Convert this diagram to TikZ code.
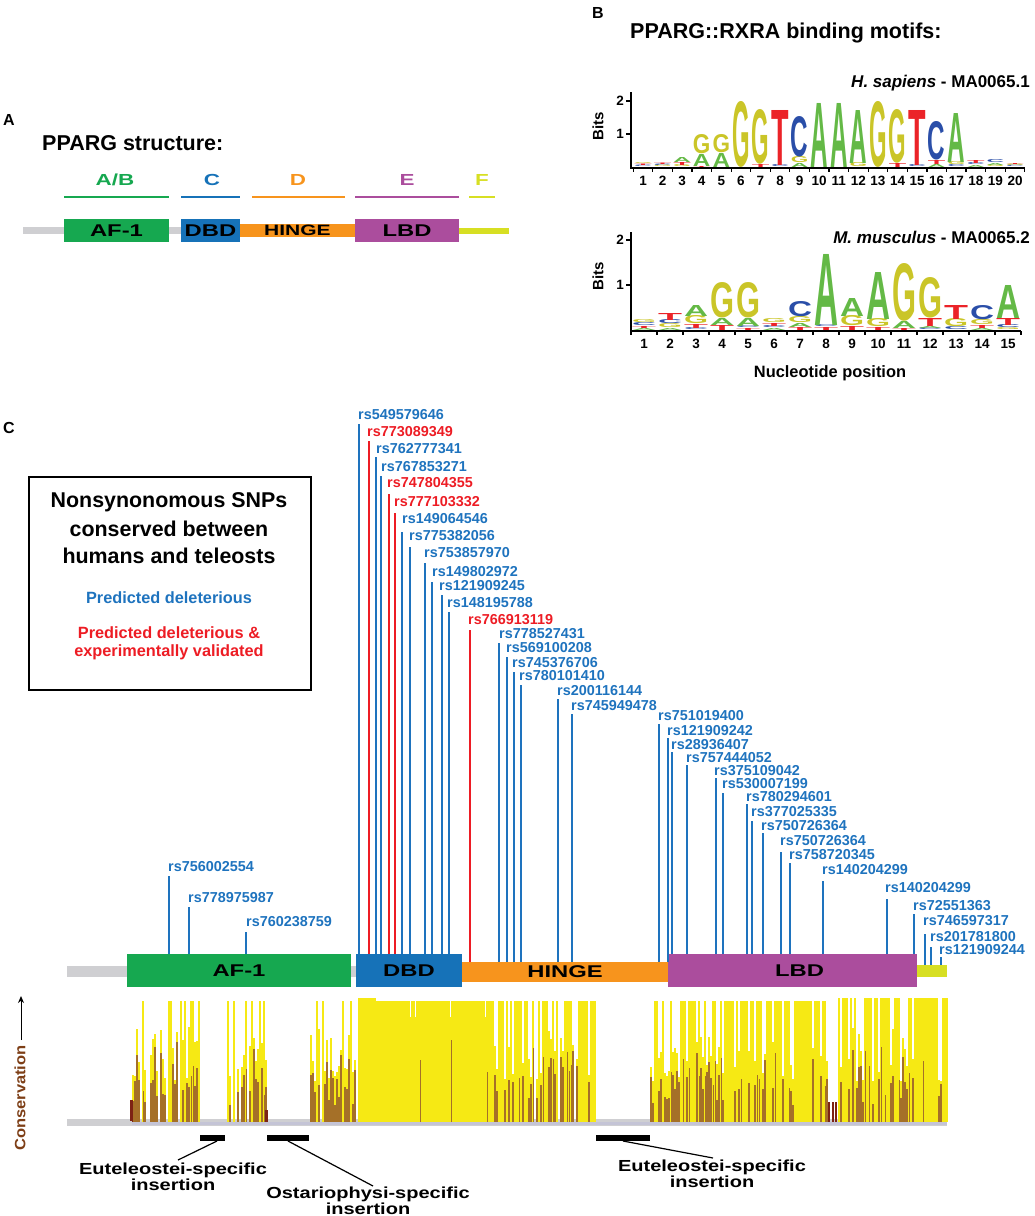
\documentclass[tikz,border=0pt]{standalone}
\usepackage{graphicx}
\usepackage{fontspec}
\usetikzlibrary{arrows.meta}
\setmainfont{Liberation Sans}
\newfontfamily\widefont{Liberation Sans}[FakeStretch=1.4]
\newfontfamily\insfont{Liberation Sans}[FakeStretch=1.25]
\newfontfamily\consfont{Liberation Sans}[FakeStretch=1.1]
\newfontfamily\logofont{Liberation Sans}
\newcommand\fsz[1]{\fontsize{#1}{#1}\selectfont}
\newcommand\snpfont{\bfseries\fontsize{14.4}{16}\selectfont}
\definecolor{snpblue}{RGB}{30,115,190}
\definecolor{snpred}{RGB}{237,28,36}
\definecolor{afgreen}{RGB}{22,168,80}
\definecolor{dbdblue}{RGB}{22,114,184}
\definecolor{hingeor}{RGB}{247,148,29}
\definecolor{lbdpur}{RGB}{171,77,157}
\definecolor{fyel}{RGB}{215,223,35}
\definecolor{lgray}{RGB}{207,207,210}
\definecolor{consY}{RGB}{246,233,20}
\definecolor{consB}{RGB}{165,112,40}
\definecolor{consD}{RGB}{125,35,20}
\definecolor{brownlbl}{RGB}{125,62,22}
\definecolor{lgA}{RGB}{100,185,70}
\definecolor{lgC}{RGB}{42,78,168}
\definecolor{lgG}{RGB}{202,197,40}
\definecolor{lgT}{RGB}{235,35,40}
\definecolor{lav}{RGB}{196,196,214}
% logo column: #1 centre x, #2 list Letter/height (bottom to top)
\newcommand\lgcol[2]{%
  \xdef\ycur{\lgbase}%
  \foreach \LL/\HH in {#2}{%
    \node[inner sep=0pt,outer sep=0pt,anchor=south,text=lg\LL] at (#1,\ycur)
      {\resizebox{\lgw pt}{\HH pt}{\logofont\bfseries\LL}};
    \pgfmathsetmacro\ynew{\ycur-\HH}%
    \xdef\ycur{\ynew}%
  }}
% conservation region: #1 start, #2 end, #3 p full, #4 p cumulative (full+empty), #5 full height
\newcommand\consreg[5]{%
  \pgfmathtruncatemacro\nn{(#2-#1)/2}%
  \foreach \i in {0,...,\nn}{%
    \pgfmathsetmacro\xx{#1+2*\i}%
    \pgfmathsetmacro\ra{rnd}%
    \pgfmathsetmacro\rb{rnd}%
    \pgfmathsetmacro\rc{rnd}%
    \ifdim\ra pt<#3pt
      \fill[consY] (\xx,1122) rectangle ++(2.1,-#5);
      \ifdim\rc pt<0.25pt
        \pgfmathsetmacro\hb{25+50*\rb}%
        \fill[consB] (\xx+0.6,1122) rectangle ++(0.9,-\hb);
      \fi
    \else
      \ifdim\ra pt<#4pt\relax\else
        \pgfmathsetmacro\hy{40+55*\rb}%
        \pgfmathsetmacro\hb{\hy*(0.35+0.6*\rc)}%
        \fill[consY] (\xx,1122) rectangle ++(2.1,-\hy);
        \fill[consB] (\xx+0.3,1122) rectangle ++(1.5,-\hb);
      \fi
    \fi
  }}
\begin{document}
\begin{tikzpicture}[x=1pt,y=-1pt,
  snpl/.style={font=\snpfont, inner sep=0pt, anchor=west},
  snpline/.style={line width=1.8pt},
  dom/.style={inner sep=0pt, outer sep=0pt, anchor=north west, font=\widefont\bfseries\fsz{17}},
  seglbl/.style={font=\widefont\bfseries\fsz{16}, inner sep=0pt},
  seg/.style={line width=1.5pt},
  plab/.style={font=\bfseries\fsz{16}, inner sep=0pt},
  ttl/.style={font=\bfseries\fsz{21.5}, inner sep=0pt},
  num/.style={font=\bfseries\fsz{13.5}, inner sep=0pt},
  axis/.style={line width=1.4pt, black},
  ins/.style={font=\insfont\bfseries\fontsize{16}{16.5}\selectfont, align=center, inner sep=0pt},
  leg/.style={font=\bfseries\fsz{21.4}, inner sep=0pt},
  legs/.style={font=\bfseries\fsz{16.3}, inner sep=0pt}]
\useasboundingbox (0,0) rectangle (1034,1216);
\pgfmathsetseed{7}

% ================= Panel A =================
\node[plab] (labA) at (9,120) {A};
\node[ttl, anchor=west] (ttlA) at (42,143) {PPARG structure:};
\node[seglbl, text=afgreen] (sAB) at (115,180) {A/B};
\node[seglbl, text=dbdblue] (sC) at (212,180) {C};
\node[seglbl, text=hingeor] (sD) at (298,180) {D};
\node[seglbl, text=lbdpur] (sE) at (407,180) {E};
\node[seglbl, text=fyel] (sF) at (482,180) {F};
\draw[seg, afgreen] (64,197) -- (169,197);
\draw[seg, dbdblue] (181,197) -- (240,197);
\draw[seg, hingeor] (252,197) -- (345,197);
\draw[seg, lbdpur] (355,197) -- (459,197);
\draw[seg, fyel] (469,197) -- (495,197);
\fill[lgray] (23,227) rectangle (64,234);
\fill[lgray] (169,227) rectangle (181,234);
\node[dom, fill=afgreen, minimum width=105pt, minimum height=23pt] (af1A) at (64,219) {AF-1};
\node[dom, fill=dbdblue, minimum width=59pt, minimum height=23pt] (dbdA) at (181,219) {DBD};
\node[dom, fill=hingeor, minimum width=115pt, minimum height=13pt, font=\widefont\bfseries\fsz{15}] (hingeA) at (240,224) {HINGE};
\node[dom, fill=lbdpur, minimum width=104pt, minimum height=23pt] (lbdA) at (355,219) {LBD};
\node[dom, fill=fyel, minimum width=50pt, minimum height=6pt] (fA) at (459,228) {};

% ================= Panel B =================
\node[plab] (labB) at (598,13) {B};
\node[ttl, anchor=west] (ttlB) at (630,33) {PPARG::RXRA binding motifs:};
\node[font=\bfseries\fsz{17}, inner sep=0pt, anchor=east] (hs) at (1030,83) {\textit{H. sapiens} - MA0065.1};
\node[font=\bfseries\fsz{17}, inner sep=0pt, anchor=east] (mm) at (1030,237) {\textit{M. musculus} - MA0065.2};
% logo 1 axes
\draw[axis] (631,92) -- (631,168) -- (1025,168);
\draw[axis] (626,101) -- (631,101);
\draw[axis] (626,134) -- (631,134);
\node[num, anchor=east] (y2a) at (624,101) {2};
\node[num, anchor=east] (y1a) at (624,134) {1};
\node[font=\bfseries\fsz{15}, rotate=90, inner sep=0pt] (bitsA) at (598,126) {Bits};
\foreach \k in {0,...,20}{\draw[line width=1.2pt] (633.2+19.58*\k,168) -- ++(0,4);}
\foreach \k in {1,...,20}{\node[num] at (643+19.58*\k-19.58,181) {\k};}
% logo 1 letters
\def\lgbase{167}\def\lgw{17.5}
\lgcol{643}{C/1.5,T/1.5,G/1}
\lgcol{662.6}{G/1.5,C/1.5,T/1.5}
\lgcol{682.2}{G/2,T/3,A/5}
\lgcol{701.7}{T/1,A/12,G/19}
\lgcol{721.3}{A/14,G/18}
\lgcol{740.9}{G/65}
\lgcol{760.5}{T/3,G/54}
\lgcol{780.1}{C/2,T/55}
\lgcol{799.6}{A/4,G/6,C/40}
\lgcol{819.2}{A/64}
\lgcol{838.8}{A/64}
\lgcol{858.4}{G/4,A/53}
\lgcol{878}{G/65}
\lgcol{897.5}{T/4,G/53}
\lgcol{917.1}{C/2,T/55}
\lgcol{936.7}{A/3,T/4,C/38}
\lgcol{956.3}{C/2,G/3,A/49}
\lgcol{975.9}{A/2,C/2,T/3}
\lgcol{995.4}{G/2,A/2,C/3}
\lgcol{1015}{C/1.5,G/1.5,T/1}
% logo 2 axes
\draw[axis] (631,232) -- (631,331) -- (1021,331);
\draw[axis] (626,240) -- (631,240);
\draw[axis] (626,285) -- (631,285);
\node[num, anchor=east] (y2b) at (624,240) {2};
\node[num, anchor=east] (y1b) at (624,285) {1};
\node[font=\bfseries\fsz{15}, rotate=90, inner sep=0pt] (bitsB) at (598,276) {Bits};
\foreach \k in {0,...,15}{\draw[line width=1.2pt] (631+26*\k,331) -- ++(0,4);}
\foreach \k in {1,...,15}{\node[num] at (644+26*\k-26,344) {\k};}
\node[font=\bfseries\fsz{16.4}, inner sep=0pt] (nucpos) at (830,373) {Nucleotide position};
% logo 2 letters
\def\lgbase{330}\def\lgw{24}
\lgcol{644}{A/2,T/2,C/3,G/3}
\lgcol{670}{A/2,G/4,C/4,T/7}
\lgcol{696}{C/2,T/4,G/8,A/11}
\lgcol{722}{T/5,A/7,G/35}
\lgcol{748}{T/2,C/2,A/8,G/35}
\lgcol{774}{A/2,C/2,T/3,G/4}
\lgcol{800}{T/3,A/4,G/6,C/15}
\lgcol{826}{T/3,C/2,A/71}
\lgcol{852}{T/4,G/10,A/18}
\lgcol{878}{T/3,G/8,A/47}
\lgcol{904}{T/2,A/7,G/57}
\lgcol{930}{C/2,A/2,T/8,G/40}
\lgcol{956}{C/3,G/8,T/14}
\lgcol{982}{A/2,T/3,G/5,C/14}
\lgcol{1008}{G/2,C/3,T/7,A/33}

% ================= Panel C =================
\node[plab] (labC) at (9,428) {C};
\node[draw=black, line width=1.5pt, minimum width=282pt, minimum height=213pt, anchor=north west, inner sep=0pt] (legend) at (28,476) {};
\node[leg] (lg1) at (169,502) {Nonsynonomous SNPs};
\node[leg] (lg2) at (169,529) {conserved between};
\node[leg] (lg3) at (169,556) {humans and teleosts};
\node[legs, text=snpblue] (lg4) at (169,598) {Predicted deleterious};
\node[legs, text=snpred] (lg5) at (169,633) {Predicted deleterious \&};
\node[legs, text=snpred] (lg6) at (169,652) {experimentally validated};

% protein bar
\fill[lgray] (67,966) rectangle (127,977);
\fill[lgray] (351,966) rectangle (356,977);
\node[dom, fill=afgreen, minimum width=224pt, minimum height=33pt] (af1) at (127,954) {AF-1};
\node[dom, fill=dbdblue, minimum width=106pt, minimum height=33pt] (dbd) at (356,954) {DBD};
\node[dom, fill=hingeor, minimum width=206pt, minimum height=20pt, text width=200pt, align=center] (hinge) at (462,962) {HINGE};
\node[dom, fill=lbdpur, minimum width=249pt, minimum height=33pt, text width=249pt, align=center] (lbd) at (668,954) {\hspace*{14pt}LBD};
\node[dom, fill=fyel, minimum width=30pt, minimum height=12pt] (fdom) at (917,965) {};

% SNPs
\foreach \snx/\sny/\slx/\slt/\stg/\scl/\stx in {
 358/415/359/424/dbd/snpblue/rs549579646,
 367/432/369/441/dbd/snpred/rs773089349,
 376/449/376/457/dbd/snpblue/rs762777341,
 381/467/381/476/dbd/snpblue/rs767853271,
 387/483/389/494/dbd/snpred/rs747804355,
 394/502/395/513/dbd/snpred/rs777103332,
 402/519/402/532/dbd/snpblue/rs149064546,
 409/536/410/547/dbd/snpblue/rs775382056,
 424/553/425/563/dbd/snpblue/rs753857970,
 432/572/432/582/dbd/snpblue/rs149802972,
 439/586/442/595/dbd/snpblue/rs121909245,
 447/603/449/612/dbd/snpblue/rs148195788,
 468/620/470/630/hinge/snpred/rs766913119,
 499/634/499/643/hinge/snpblue/rs778527431,
 506/648/507/657/hinge/snpblue/rs569100208,
 512/663/514/672/hinge/snpblue/rs745376706,
 519/676/521/685/hinge/snpblue/rs780101410,
 557/691/558/699/hinge/snpblue/rs200116144,
 571/706/572/714/hinge/snpblue/rs745949478,
 658/716/659/724/hinge/snpblue/rs751019400,
 667/731/668/738/hinge/snpblue/rs121909242,
 671/745/672/752/lbd/snpblue/rs28936407,
 686/758/687/765/lbd/snpblue/rs757444052,
 714/771/716/778/lbd/snpblue/rs375109042,
 722/784/723/793/lbd/snpblue/rs530007199,
 746/797/747/804/lbd/snpblue/rs780294601,
 751/812/752/821/lbd/snpblue/rs377025335,
 761/826/763/833/lbd/snpblue/rs750726364,
 780/841/781/852/lbd/snpblue/rs750726364,
 789/855/790/863/lbd/snpblue/rs758720345,
 822/870/823/881/lbd/snpblue/rs140204299,
 885/888/887/899/lbd/snpblue/rs140204299,
 913/906/914/914/lbd/snpblue/rs72551363,
 923/921/925/934/fdom/snpblue/rs746597317,
 930/937/931/947/fdom/snpblue/rs201781800,
 939/950/941/957/fdom/snpblue/rs121909244,
 168/867/169/876/af1/snpblue/rs756002554,
 188/898/189/907/af1/snpblue/rs778975987,
 246/922/246/932/af1/snpblue/rs760238759}{
  \node[snpl, text=\scl] (snp-\stx-\sny) at (\snx,\sny) {\stx};
  \draw[snpline, \scl] (\slx,\slt) -- (\slx,\slt |- \stg.north);
}

% conservation track
\fill[lgray] (67,1119) rectangle (947,1126);
\consreg{132}{198}{0.18}{0.45}{121}
\consreg{227}{266}{0.08}{0.22}{121}
\consreg{310}{356}{0.2}{0.3}{121}
\fill[consY] (358,1001) rectangle (490,1122);
\fill[consY] (358,998) rectangle (376,1001);
\foreach \wx in {410,415,450,485}{\fill[white] (\wx,1001) rectangle ++(0.9,16);}
\foreach \bx/\bh in {420/62,451/82,487/50}{\fill[consB] (\bx,1122) rectangle ++(1.2,-\bh);}
\consreg{490}{594}{0.5}{0.53}{121}
\consreg{650}{680}{0.2}{0.25}{121}
\consreg{680}{827}{0.65}{0.66}{121}
\consreg{838}{946}{0.66}{0.66}{124}
\fill[consD] (130,1122) rectangle ++(3,-22);
\fill[consD] (265,1122) rectangle ++(3,-12);
\fill[consD] (828,1122) rectangle ++(2,-20);
\fill[consD] (831.5,1122) rectangle ++(2,-20);
\fill[consD] (835,1122) rectangle ++(2,-20);
\fill[lav] (132,1122) rectangle (947,1125);
\fill[lgray] (67,1121) rectangle (132,1126);

% conservation label
\draw[line width=1pt, -{Stealth[length=7pt,width=6pt]}] (21,1040) -- (21,996);
\node[font=\consfont\bfseries\fsz{15}, text=brownlbl, rotate=90, inner sep=0pt] (consl) at (20,1098) {Conservation};

% insertions
\fill[black] (200,1135) rectangle (225,1141);
\fill[black] (267,1135) rectangle (309,1141);
\fill[black] (596,1135) rectangle (650,1141);
\coordinate (i1) at (217,1141);
\coordinate (i2) at (288,1141);
\coordinate (i3) at (623,1141);
\node[ins] (ins1) at (173,1177) {Euteleostei-specific\\insertion};
\node[ins] (ins2) at (368,1201) {Ostariophysi-specific\\insertion};
\node[ins] (ins3) at (712,1174) {Euteleostei-specific\\insertion};
\draw[line width=1.2pt] (i1) -- (178,1160);
\draw[line width=1.2pt] (i2) -- (373,1186);
\draw[line width=1.2pt] (i3) -- (713,1158);
\end{tikzpicture}
\end{document}
